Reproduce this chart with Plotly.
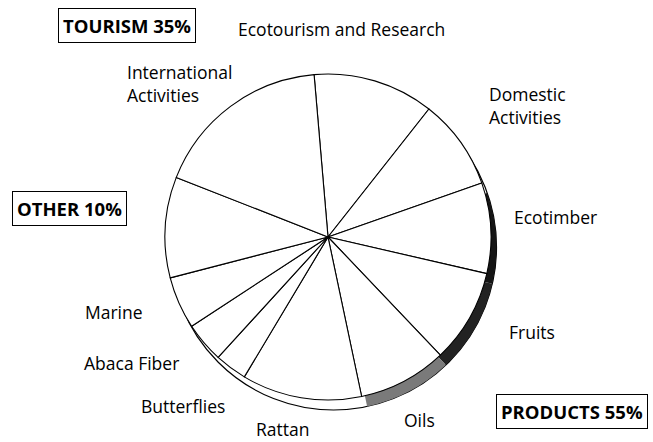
import plotly.graph_objects as go

W, H = 653, 442

# ---- data (share of the pie, %) ----
categories = ["Ecotourism and Research", "Domestic Activities", "Ecotimber", "Fruits",
              "Oils", "Rattan", "Butterflies", "Abaca Fiber", "Marine", "Other",
              "International Activities"]
values = [12.0, 9.0, 9.0, 9.3, 8.8, 11.9, 3.2, 4.0, 5.2, 10.0, 17.7]

slice_labels = ["Ecotourism and Research", "Domestic<br>Activities", "Ecotimber", "Fruits",
                "Oils", "Rattan", "Butterflies", "Abaca Fiber", "Marine", "",
                "International<br>Activities"]
group_labels = ["TOURISM 35%", "OTHER 10%", "PRODUCTS 55%"]

# ---- layout / style (positions in pixels) ----
cx, cy, R = 328, 237, 163
rim_dx, rim_dy = 5.5, 10
rim_colors = ["rgba(0,0,0,0)", "rgba(0,0,0,0)", "#151515", "#222222", "#7a7a7a",
              "rgba(0,0,0,0)", "rgba(0,0,0,0)", "rgba(0,0,0,0)", "rgba(0,0,0,0)",
              "rgba(0,0,0,0)", "rgba(0,0,0,0)"]
label_pos = [(342, 29, "center"), (487, 105, "left"), (555, 217, "center"),
             (532, 332, "center"), (419, 420, "center"), (282, 429, "center"),
             (183, 406, "center"), (131, 363, "center"), (114, 312, "center"),
             (0, 0, "center"), (125, 83, "left")]
group_pos = [(126.5, 25.5), (69, 208), (571.5, 411.5)]
FONT = "Open Sans"


def domain(dx=0.0, dy=0.0):
    x0 = (cx + dx - R) / W
    x1 = (cx + dx + R) / W
    y0 = (H - (cy + dy) - R) / H
    y1 = (H - (cy + dy) + R) / H
    return dict(x=[x0, x1], y=[y0, y1])


rot = -4.9
fig = go.Figure()

# rim: outlined base disc, offset down-right
fig.add_trace(go.Pie(values=[sum(values)], labels=["rim"], domain=domain(rim_dx, rim_dy),
                     marker=dict(colors=["white"], line=dict(color="black", width=1.2)),
                     textinfo="none", hoverinfo="skip", sort=False, showlegend=False))
# rim: shaded part
fig.add_trace(go.Pie(values=values, labels=categories, domain=domain(rim_dx, rim_dy),
                     marker=dict(colors=rim_colors, line=dict(width=0)),
                     rotation=rot, direction="clockwise", sort=False,
                     textinfo="none", hoverinfo="skip", showlegend=False))
# top face
fig.add_trace(go.Pie(values=values, labels=categories, domain=domain(),
                     marker=dict(colors=["white"] * len(values),
                                 line=dict(color="black", width=1.1)),
                     rotation=rot, direction="clockwise", sort=False,
                     textinfo="none", showlegend=False))

annotations = []
for txt, (px, py, al) in zip(slice_labels, label_pos):
    if not txt:
        continue
    annotations.append(dict(x=px / W, y=1 - py / H, xref="paper", yref="paper",
                            text=txt, showarrow=False, align=al,
                            xanchor="left" if al == "left" else "center", yanchor="middle",
                            font=dict(family=FONT, size=17.5, color="black")))
for txt, (px, py) in zip(group_labels, group_pos):
    annotations.append(dict(x=px / W, y=1 - py / H, xref="paper", yref="paper",
                            text="<b>" + txt + "</b>", showarrow=False,
                            xanchor="center", yanchor="middle",
                            bordercolor="black", borderwidth=1, borderpad=4,
                            bgcolor="white",
                            font=dict(family=FONT, size=18.5, color="black")))

fig.update_layout(width=W, height=H, margin=dict(l=0, r=0, t=0, b=0),
                  paper_bgcolor="white", plot_bgcolor="white",
                  annotations=annotations)
fig.write_html("out.html")
